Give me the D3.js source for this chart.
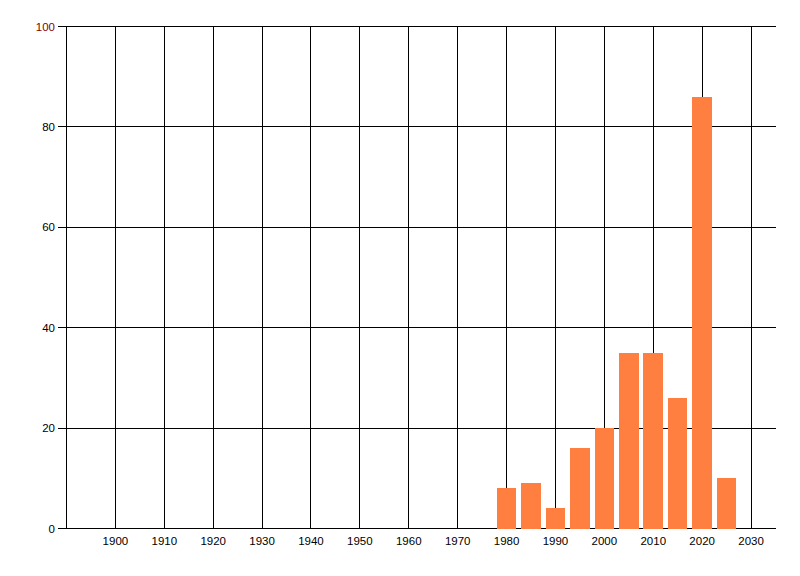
<!DOCTYPE html>
<html><head><meta charset="utf-8">
<script src="https://cdn.jsdelivr.net/npm/d3@7"></script>
<style>body{margin:0;background:#fff}svg{display:block}</style>
</head><body><svg id="c" width="800" height="576"></svg>
<script>
const years = [1980,1985,1990,1995,2000,2005,2010,2015,2020,2025];
const counts = [8,9,4,16,20,35,35,26,86,10];
const xTicks = [1900,1910,1920,1930,1940,1950,1960,1970,1980,1990,2000,2010,2020,2030];
const yTicks = [0,20,40,60,80,100];

const svg = d3.select('#c');
const x = d3.scaleLinear().domain([1890,2035]).range([66.5,775.5]);
const y = d3.scaleLinear().domain([0,100]).range([528.5,26.5]);
const font = 'Liberation Sans, Arial, sans-serif';
const snap = v => Math.floor(v) + 0.5;

// horizontal grid + y ticks
svg.append('g').selectAll('line').data(yTicks).join('line')
  .attr('x1',58).attr('x2',776)
  .attr('y1',d=>snap(y(d))).attr('y2',d=>snap(y(d)))
  .attr('stroke','#000').attr('stroke-width',1);
// vertical grid
svg.append('g').selectAll('line').data(xTicks).join('line')
  .attr('x1',d=>snap(x(d))).attr('x2',d=>snap(x(d)))
  .attr('y1',y(100)).attr('y2',y(0))
  .attr('stroke','#000').attr('stroke-width',1);
// left axis line
svg.append('line').attr('x1',snap(x(1890))).attr('x2',snap(x(1890))).attr('y1',y(100)).attr('y2',y(0))
  .attr('stroke','#000');

// bars
svg.append('g').selectAll('rect').data(years).join('rect')
  .attr('x',d=>x(d-2)).attr('width',d=>x(d+2)-x(d-2))
  .attr('y',(d,i)=>y(counts[i])).attr('height',(d,i)=>y(0)-y(counts[i]))
  .attr('fill','#FF7F41').attr('shape-rendering','crispEdges');

// y labels
svg.append('g').selectAll('text').data(yTicks).join('text')
  .attr('x',55).attr('y',d=>y(d)+4)
  .attr('text-anchor','end').attr('font-family',font).attr('font-size','11.5px')
  .attr('fill',(d)=>d===100?'#8b0000':'#000').text(d=>d);
// x labels
svg.append('g').selectAll('text').data(xTicks).join('text')
  .attr('x',d=>x(d)).attr('y',545)
  .attr('text-anchor','middle').attr('font-family',font).attr('font-size','11.5px')
  .attr('fill','#000').text(d=>d);
</script></body></html>
